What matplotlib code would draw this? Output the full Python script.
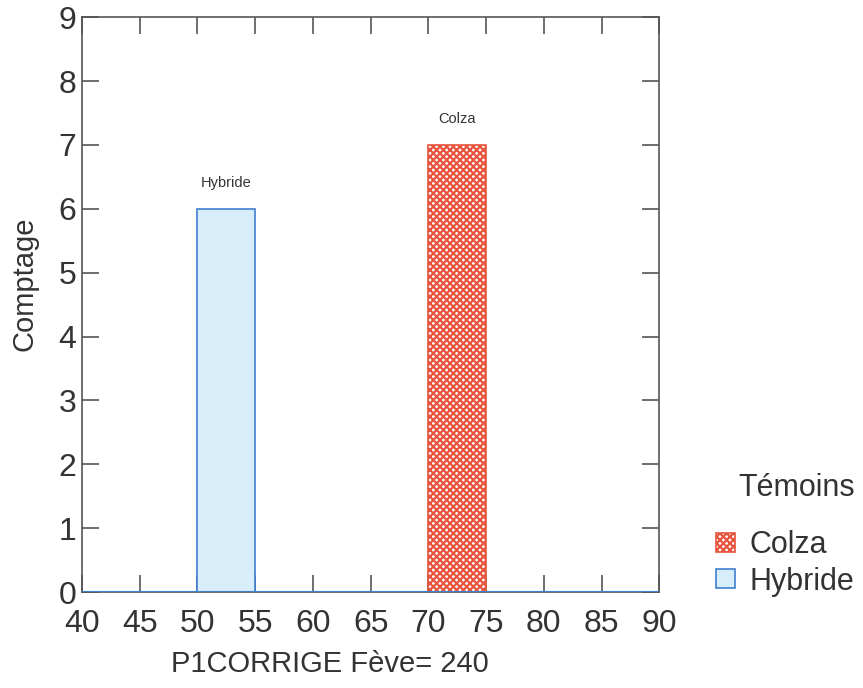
import matplotlib.pyplot as plt

plt.rcParams['font.family'] = ['Liberation Sans', 'DejaVu Sans']

# données
groupes = ["Colza", "Hybride"]
debut = [70, 50]
largeur = [5, 5]
comptage = [7, 6]
couleurs_fond = ["white", "#d8eefb"]
couleurs_bord = ["#e8553f", "#3f7fd0"]
motifs = ["xxxxx", None]
x_ticks = [40, 45, 50, 55, 60, 65, 70, 75, 80, 85, 90]
y_ticks = [0, 1, 2, 3, 4, 5, 6, 7, 8, 9]

plt.rcParams['hatch.linewidth'] = 1.6

fig = plt.figure(figsize=(8.63, 6.88), dpi=100)
ax = fig.add_axes([0.095, 0.1395, 0.669, 0.8355])

barres = []
for g, d, w, c, fc, ec, h in zip(groupes, debut, largeur, comptage,
                                  couleurs_fond, couleurs_bord, motifs):
    b = ax.bar(d, c, width=w, align='edge', facecolor=fc, edgecolor=ec,
               hatch=h, linewidth=1.2, label=g, zorder=2)
    barres.append(b)
    ax.text(d + w / 2, c + 0.3, g, ha='center', va='bottom',
            fontsize=10.5, color='#333333')

ax.axhline(0, color='#3f7fd0', linewidth=1.5, zorder=3)

ax.set_xlim(40, 90)
ax.set_ylim(0, 9)
ax.set_xticks(x_ticks)
ax.set_yticks(y_ticks)
ax.tick_params(direction='in', length=12, width=1.2, color='#555555',
               top=True, right=True, labelsize=23, labelcolor='#333333')
ax.tick_params(axis='x', pad=12)
ax.tick_params(axis='y', pad=4)
for s in ax.spines.values():
    s.set_color('#555555')
    s.set_linewidth(1.2)

ax.set_xlabel("P1CORRIGE Fève= 240", fontsize=21, color='#333333')
ax.xaxis.set_label_coords(0.43, -0.10)
ax.set_ylabel("Comptage", fontsize=21, color='#333333')
ax.yaxis.set_label_coords(-0.075, 0.537)

leg = fig.legend(handles=barres, labels=groupes, title="Témoins",
                 loc='upper left', bbox_to_anchor=(0.83, 0.313),
                 frameon=False, fontsize=22, title_fontsize=22,
                 handlelength=0.6, handleheight=0.6, handletextpad=0.5,
                 labelspacing=0.2, labelcolor='#333333',
                 borderaxespad=0, borderpad=0, alignment='right')
leg.get_title().set_color('#333333')
leg._legend_box.sep = 20

plt.savefig("out.png", dpi=100)
